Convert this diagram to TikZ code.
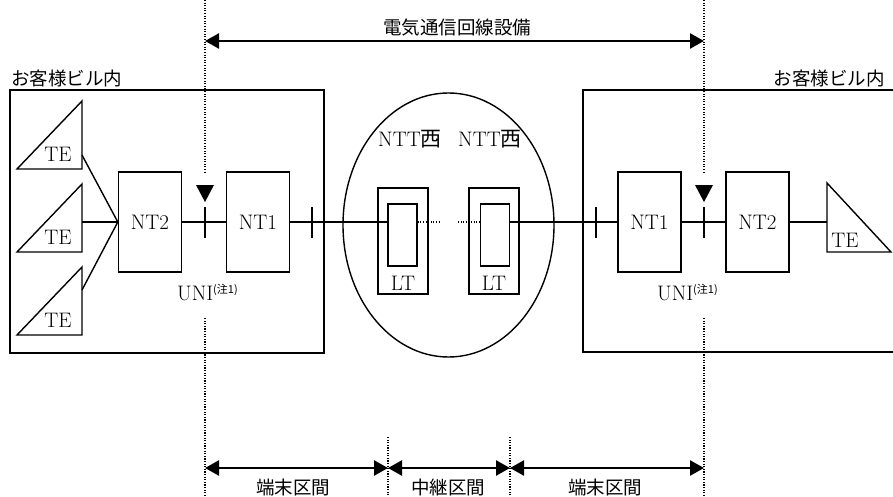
\documentclass[tikz,border=0pt]{standalone}
\usepackage{fontspec}
\newfontfamily\jp{Noto Sans CJK JP}
\usetikzlibrary{arrows.meta,shapes.geometric,positioning}
\tikzset{
  unit/.style={draw, line width=1.4pt, minimum width=63pt, minimum height=100pt, font=\fontsize{21}{21}\selectfont},
  ltouter/.style={draw, line width=1.4pt, minimum width=50pt, minimum height=106pt},
  ltinner/.style={draw, line width=1.4pt, minimum width=29pt, minimum height=62pt},
  wire/.style={line width=1.4pt},
  guide/.style={line width=1.1pt, dash pattern=on 1.1pt off 1.5pt},
  span/.style={{Triangle[length=14pt,width=15pt]}-{Triangle[length=14pt,width=15pt]}, line width=2.5pt},
  jlabel/.style={font=\jp\fontsize{18.5}{20}\selectfont, inner sep=0pt},
  llabel/.style={font=\fontsize{21}{21}\selectfont, inner sep=0pt}
}
\newcommand{\uninote}{UNI\raisebox{7pt}{\jp\fontsize{11}{11}\selectfont(注1)}}
\begin{document}
\begin{tikzpicture}[x=1pt, y=-1pt]
\useasboundingbox (0,0) rectangle (893,497);
% guide lines
\foreach \x in {205,704} { \draw[guide] (\x,0) -- (\x,173); \draw[guide] (\x,318) -- (\x,497); }
\foreach \x in {388,510} \draw[guide] (\x,437) -- (\x,497);
\coordinate (topL) at (205,41); \coordinate (topR) at (704,41);
\coordinate (botA) at (205,468); \coordinate (botB) at (388,468);
\coordinate (botC) at (510,468); \coordinate (botD) at (704,468);
\draw[span] (topL) -- (topR);
\draw[span] (botA) -- (botB);
\draw[span] (botB) -- (botC);
\draw[span] (botC) -- (botD);
\node[jlabel] (lblNet) at (457,28) {電気通信回線設備};
\node[jlabel] (lblTermL) at (293,487) {端末区間};
\node[jlabel] (lblRelay) at (448,487) {中継区間};
\node[jlabel] (lblTermR) at (605,487) {端末区間};
% customer buildings
\draw[line width=1.4pt] (10,90) rectangle (324,353);
\draw[line width=1.4pt] (893,90) -- (583,90) -- (583,352) -- (893,352);
\node[jlabel, anchor=west] (bldL) at (11,78) {お客様ビル内};
\node[jlabel, anchor=east] (bldR) at (885,78) {お客様ビル内};
% terminals
\foreach \i/\y/\c in {1/169/155, 2/252/222, 3/335/290}
  { \draw[line width=1.4pt] (17,\y) -- (82,\y) -- (82,\y-68) -- cycle; \node[llabel] (te\i) at (58,\y-15) {TE}; \coordinate (tp\i) at (82,\c); }
\draw[line width=1.4pt] (827,183) -- (827,252) -- (891,252) -- cycle;
\node[llabel] (teR) at (845,240) {TE};
\coordinate (tpR) at (827,222);
% network units
\node[unit] (nt2L) at (150,222) {NT2};
\node[unit] (nt1L) at (258,222) {NT1};
\node[unit] (nt1R) at (649.5,222) {NT1};
\node[unit] (nt2R) at (757.5,222) {NT2};
\node[draw, ellipse, line width=1.4pt, minimum width=211pt, minimum height=264pt] (ntt) at (448.5,225) {};
\node[ltouter] (ltL) at (403,241) {};
\node[ltinner] (ltLi) at (402.5,235) {};
\node[ltouter] (ltR) at (494,241) {};
\node[ltinner] (ltRi) at (495,235) {};
\node[llabel] (ltLt) at (403,283) {LT};
\node[llabel] (ltRt) at (494,283) {LT};
\node[llabel] (nttL) at (410,139) {NTT{\jp 西}};
\node[llabel] (nttR) at (490,139) {NTT{\jp 西}};
\node[llabel, anchor=base west] (uniL) at (177,300) {\uninote};
\node[llabel, anchor=base west] (uniR) at (657,300) {\uninote};
% wiring
\foreach \i in {1,2,3} \draw[wire] (tp\i) -- (nt2L.west);
\draw[wire] (nt2L) -- (nt1L);
\draw[wire] (nt1L.east) -- (nt1L.east -| ltLi.west);
\coordinate (dotA) at (440,222); \coordinate (dotB) at (458,222);
\draw[guide] (nt1L.east -| ltLi.east) -- (dotA);
\draw[guide] (dotB) -- (nt1L.east -| ltRi.west);
\draw[wire] (nt1R.west -| ltRi.east) -- (nt1R.west);
\draw[wire] (nt1R) -- (nt2R);
\draw[wire] (nt2R.east) -- (tpR);
% interface marks
\foreach \x in {205,312,596,704} \draw[wire] (\x,207) -- (\x,238);
\foreach \x in {205,704} \fill (\x-9,185) -- (\x+9,185) -- (\x,202) -- cycle;
\end{tikzpicture}
\end{document}
